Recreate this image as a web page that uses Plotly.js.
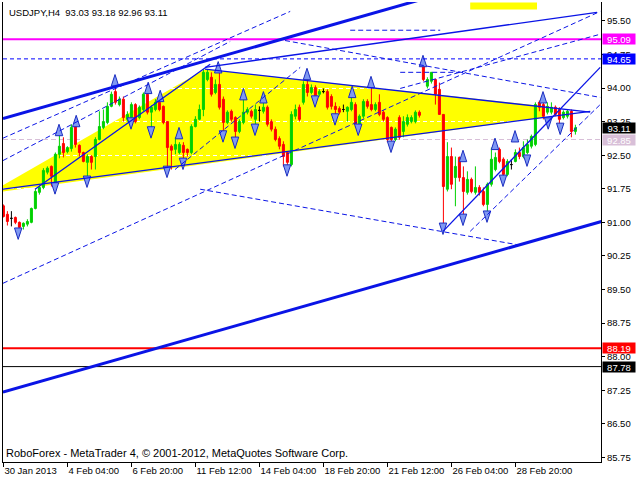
<!DOCTYPE html>
<html><head><meta charset="utf-8">
<script src="https://cdn.plot.ly/plotly-3.0.1.min.js"></script>
<style>html,body{margin:0;padding:0;background:#fff}#chart{width:640px;height:480px}</style>
</head><body><div id="chart"></div>
<script>
// ---- Data (USDJPY H4, bar index 0..143) ----
const openP = [91.37,91.18,91.09,91.11,91.00,90.91,90.96,91.00,91.31,91.67,
91.78,92.12,92.25,91.85,92.52,92.76,92.58,92.65,93.14,92.72,
92.56,92.34,92.47,92.47,92.85,
93.12,93.23,93.59,93.92,93.63,93.75,93.30,93.34,93.63,93.34,93.52,93.86,93.46,93.52,93.68,93.59,93.25,92.70,92.63,92.56,92.72,92.63,92.56,93.14,93.30,
93.52,94.19,94.24,93.90,94.08,93.75,93.23,93.48,93.34,93.03,93.23,93.46,93.48,93.30,93.50,93.48,93.57,93.25,93.08,92.87,92.74,92.56,92.29,93.37,93.57,
93.68,94.08,93.90,94.01,93.86,93.92,93.92,93.81,93.59,93.54,93.52,93.48,93.52,93.63,93.19,93.37,93.70,93.63,93.52,93.68,93.46,93.34,93.12,92.85,93.34,
93.03,93.19,93.25,93.25,93.46,94.53,94.04,94.15,94.19,93.97,93.41,91.74,92.47,92.00,92.45,92.00,91.67,91.96,91.67,91.78,91.69,91.40,91.85,92.18,92.63,
92.41,92.07,92.29,92.36,92.56,92.47,92.56,92.70,92.74,93.68,93.63,93.46,93.46,93.57,93.52,93.34,93.37,93.48,93.03];
const highP = [91.40,91.25,91.25,91.13,91.02,91.00,91.07,91.33,91.74,91.82,
92.21,92.25,92.27,92.56,92.94,92.90,92.70,93.19,93.19,92.74,
92.58,92.52,92.50,92.90,93.48,
93.52,93.68,93.92,94.04,93.81,93.81,93.48,93.68,93.66,93.61,93.90,93.92,93.61,93.75,93.72,93.61,93.25,92.74,92.90,92.79,92.79,92.65,93.19,93.37,93.63,
94.42,94.42,94.35,94.19,94.37,93.81,93.50,93.52,93.37,93.30,93.79,93.57,93.52,93.63,93.59,93.70,93.61,93.30,93.14,92.92,92.81,92.58,93.48,93.63,93.63,
94.15,94.19,94.08,94.06,93.97,93.99,93.97,93.86,93.68,93.59,93.63,93.59,93.81,93.68,93.41,93.75,93.75,94.04,93.68,93.86,93.50,93.37,93.14,93.12,93.39,
93.37,93.41,93.39,93.50,93.50,94.53,94.24,94.35,94.19,94.12,93.41,92.79,92.67,92.47,92.47,92.25,92.14,92.00,92.25,91.83,91.78,91.89,92.67,92.56,92.67,
92.45,92.41,92.41,92.63,92.67,92.81,92.85,92.96,93.68,93.72,93.75,93.68,93.68,93.61,93.57,93.50,93.52,93.52,93.18];
const lowP = [91.11,90.93,90.91,90.96,90.71,90.84,90.91,90.98,91.29,91.62,
91.74,92.07,91.80,91.83,92.43,92.45,92.54,92.58,92.67,92.47,
92.34,91.96,92.18,92.18,92.83,
93.08,93.19,93.57,93.63,93.59,93.25,93.25,93.23,93.21,93.30,93.48,93.41,93.03,93.48,93.48,93.19,92.18,92.18,92.52,92.52,92.34,92.47,92.52,93.12,93.28,
93.37,94.15,93.81,93.86,93.52,92.92,93.19,93.25,92.79,92.99,93.19,93.41,93.32,93.12,93.25,93.43,93.14,93.03,92.81,92.63,92.25,92.18,92.25,93.30,93.25,
93.63,93.81,93.86,93.70,93.81,93.88,93.52,93.52,93.34,93.41,93.46,93.25,93.48,93.12,93.14,93.32,93.54,93.48,93.48,93.37,93.25,92.79,92.74,92.81,92.85,
92.90,93.14,93.21,93.21,93.34,94.15,93.99,94.10,93.63,93.41,90.84,91.69,91.74,91.36,91.91,91.13,91.62,91.65,91.62,91.60,91.36,91.11,91.80,92.14,92.32,
91.96,92.03,92.18,92.34,92.41,92.43,92.52,92.65,92.70,93.48,93.30,93.41,93.41,93.37,93.12,93.30,93.32,92.90,92.96];
const closeP = [91.13,91.02,91.09,91.00,90.89,90.98,91.02,91.31,91.69,91.78,
92.16,92.21,92.03,92.52,92.70,92.56,92.67,93.12,92.74,92.56,
92.36,92.47,92.34,92.85,93.14,
93.25,93.59,93.86,93.68,93.75,93.34,93.41,93.63,93.25,93.57,93.86,93.46,93.57,93.68,93.52,93.23,92.67,92.61,92.74,92.74,92.56,92.56,93.14,93.30,93.52,
94.35,94.35,93.86,94.08,93.57,93.23,93.46,93.30,93.03,93.25,93.46,93.52,93.37,93.52,93.50,93.57,93.19,93.08,92.85,92.70,92.47,92.34,93.41,93.52,93.30,
94.08,93.90,94.01,93.75,93.92,93.92,93.57,93.59,93.52,93.46,93.52,93.57,93.68,93.19,93.37,93.70,93.59,93.52,93.63,93.41,93.30,92.85,92.85,93.08,92.90,
93.25,93.34,93.34,93.46,93.39,94.19,94.19,94.35,93.86,93.41,91.80,92.47,91.85,92.25,92.00,91.69,91.96,91.69,91.78,91.67,91.40,91.85,92.41,92.45,92.36,
92.07,92.36,92.29,92.56,92.47,92.67,92.74,92.92,93.63,93.57,93.37,93.59,93.57,93.41,93.30,93.46,93.48,93.03,93.11];

const xTickBars = [0,16,32,48,64,80,96,112,128];
const xTickText = ['30 Jan 2013','4 Feb 04:00','6 Feb 20:00','11 Feb 12:00','14 Feb 04:00','18 Feb 20:00','21 Feb 12:00','26 Feb 04:00','28 Feb 20:00'];
const yTicks = [85.75,86.50,87.25,88.00,88.75,89.50,90.25,91.00,91.75,92.50,93.25,94.00,94.75,95.50];

// Price levels with boxed labels
const levelPrices = [95.09, 94.65, 93.11, 92.85, 88.19, 87.78];
const levelColors = ['#ff00ff', '#0000ff', '#000000', '#d8bfd8', '#ff0000', '#000000'];

// Arrow markers (bar index, price)
const upArrowBar = [13.9,18.2,27.9,36.2,39.2,43.9,53.7,60.0,65.0,75.9,87.2,91.9,104.9,114.9,122.9,127.9,134.9];
const upArrowPrice = [93.19,93.39,94.30,94.13,93.95,93.12,94.59,93.99,93.92,94.44,94.04,94.26,94.73,92.61,92.88,93.05,93.92];
const downArrowBar = [3.7,12.9,20.9,31.9,36.9,40.9,44.9,54.9,57.9,62.9,70.9,77.9,82.9,88.7,96.9,109.9,114.9,120.9,124.9,130.9,136.2,139.2];
const downArrowPrice = [90.62,91.63,91.78,93.08,92.88,92.00,92.18,92.79,92.65,92.94,92.03,93.57,93.17,92.94,92.56,90.73,90.93,91.00,91.80,92.25,93.08,92.96];

// Trend lines [bar0, price0, bar1, price1]
const thickLines = [[-0.1,93.32,120,96.37],[-0.1,87.21,149.5,91.02]];
const solidLines = [[-0.1,91.74,146.7,93.48],[50.4,94.42,146.7,93.46],[7.9,91.74,51.7,94.53],[50.4,94.46,148.4,95.69],[109.9,90.80,149.2,94.46]];
const dashedLines = [[-0.1,92.88,71.7,95.71],[-0.1,92.38,56.7,95.04],[-0.1,89.64,149.2,95.71],[49.2,91.74,129.2,90.49],
  [70.4,95.06,149.2,93.79],[116.7,90.80,149.2,93.63],[42.9,92.18,74.2,94.46],[86.7,95.29,109.2,95.29],[99.2,93.99,149.2,95.20],[99.2,94.35,114.2,94.35]];
// Yellow triangle vertices (bar, price)
const triBars = [-0.1, -0.1, 50.4, 135.4, 135.4];
const triPrices = [91.69, 91.83, 94.42, 93.59, 93.34];
const boxBars = [116.7, 133.4];
const boxPrices = [95.75, 95.91];

// ---- Build ----
const idx = openP.map((_, i) => i);
const normal = idx.filter(i => openP[i] !== closeP[i]);
const doji = idx.filter(i => openP[i] === closeP[i]);
const pick = (arr, ids) => ids.map(i => arr[i]);
const GREEN = '#00d200', RED = '#ff0000', BLUE = '#0a14e6';
const FONT = 'Liberation Sans, Arial, sans-serif';

const arrowMarker = (angle) => ({symbol:'arrow', angle:angle, size:12, color:'#7f98f2', line:{color:'#1a2cc0', width:1}});
const traces = [
  {type:'candlestick', x:normal, open:pick(openP,normal), high:pick(highP,normal), low:pick(lowP,normal), close:pick(closeP,normal),
   increasing:{line:{color:GREEN,width:1}, fillcolor:GREEN}, decreasing:{line:{color:RED,width:1}, fillcolor:RED},
   whiskerwidth:0, hoverinfo:'skip', showlegend:false},
  {type:'candlestick', x:doji, open:pick(openP,doji), high:pick(highP,doji), low:pick(lowP,doji), close:pick(closeP,doji),
   increasing:{line:{color:'#000',width:1}, fillcolor:'#000'}, decreasing:{line:{color:'#000',width:1}, fillcolor:'#000'},
   whiskerwidth:0, hoverinfo:'skip', showlegend:false},
  {type:'scatter', mode:'markers', x:upArrowBar, y:upArrowPrice, hoverinfo:'skip', showlegend:false, marker:arrowMarker(0)},
  {type:'scatter', mode:'markers', x:downArrowBar, y:downArrowPrice, hoverinfo:'skip', showlegend:false, marker:arrowMarker(180)}
];

const shapes = [];
shapes.push({type:'path', xref:'x', yref:'y', layer:'below', line:{width:0}, fillcolor:'#ffff00',
  path:'M' + triBars.map((b,k)=>b+','+triPrices[k]).join(' L') + ' Z'});
shapes.push({type:'rect', xref:'x', yref:'y', layer:'below', line:{width:0}, fillcolor:'#ffff00',
  x0:boxBars[0], x1:boxBars[1], y0:boxPrices[0], y1:boxPrices[1]});
const hl = (p, color, width, dash, layer) => ({type:'line', xref:'paper', yref:'y', x0:0, x1:1, y0:p, y1:p, layer:layer, line:{color:color, width:width, dash:dash}});
shapes.push(hl(levelPrices[2], '#ffffff', 1, 'solid', 'between'));
shapes.push(hl(levelPrices[3], '#d8bfd8', 1, '5px,3px', 'between'));
shapes.push(hl(levelPrices[0], '#ff00ff', 2, 'solid', 'above'));
shapes.push(hl(levelPrices[1], '#0000ff', 1, '4px,3px', 'above'));
shapes.push(hl(levelPrices[4], '#ff0000', 2, 'solid', 'above'));
shapes.push(hl(levelPrices[5], '#000000', 1, 'solid', 'above'));
const tl = (l, width, dash) => ({type:'line', xref:'x', yref:'y', x0:l[0], y0:l[1], x1:l[2], y1:l[3], layer:'above', line:{color:BLUE, width:width, dash:dash}});
dashedLines.forEach(l => shapes.push(tl(l, 1, '5px,3px')));
solidLines.forEach(l => shapes.push(tl(l, 1.3, 'solid')));
thickLines.forEach(l => shapes.push(tl(l, 3, 'solid')));

const annotations = [];
levelPrices.forEach((p, k) => annotations.push({xref:'paper', yref:'y', x:1, y:p, xanchor:'left', yanchor:'middle',
  text:p.toFixed(2), showarrow:false, bgcolor:levelColors[k], font:{family:FONT, size:9.5, color:'#ffffff'},
  width:32, height:10, borderpad:0, align:'center', xshift:1}));
annotations.push({xref:'paper', yref:'paper', x:0, y:1, xanchor:'left', yanchor:'top', xshift:4, yshift:-3, showarrow:false,
  text:'USDJPY,H4  93.03 93.18 92.96 93.11', font:{family:FONT, size:9.5, color:'#000'}});
annotations.push({xref:'paper', yref:'paper', x:0, y:0, xanchor:'left', yanchor:'bottom', xshift:1, yshift:1, showarrow:false,
  text:'RoboForex - MetaTrader 4, © 2001-2012, MetaQuotes Software Corp.', font:{family:FONT, size:11, color:'#000'}});

const layout = {
  width:640, height:480, margin:{l:3, r:39, t:2, b:18},
  paper_bgcolor:'#ffffff', plot_bgcolor:'#ffffff', showlegend:false,
  boxgap:0.5, boxgroupgap:0, hovermode:false,
  font:{family:FONT, size:9.5, color:'#000'},
  xaxis:{type:'linear', range:[-0.1,149.4], rangeslider:{visible:false}, tickvals:xTickBars, ticktext:xTickText,
    tickmode:'array', tickangle:0, ticks:'outside', ticklen:4, tickcolor:'#000', showline:true, linecolor:'#000', linewidth:1,
    showgrid:false, zeroline:false, ticklabelposition:'outside right', tickfont:{family:FONT, size:9.5, color:'#000'}, fixedrange:true},
  yaxis:{side:'right', range:[85.65,95.92], tickvals:yTicks, ticktext:yTicks.map(v=>v.toFixed(2)),
    ticks:'outside', ticklen:3, tickcolor:'#000', showline:true, mirror:true, linecolor:'#000', linewidth:1,
    showgrid:true, gridcolor:'#ffffff', griddash:'4px,3px', gridwidth:1, zeroline:false,
    tickfont:{family:FONT, size:9.5, color:'#000'}, fixedrange:true},
  shapes:shapes, annotations:annotations
};
Plotly.newPlot('chart', traces, layout, {staticPlot:true, displayModeBar:false});
</script></body></html>
